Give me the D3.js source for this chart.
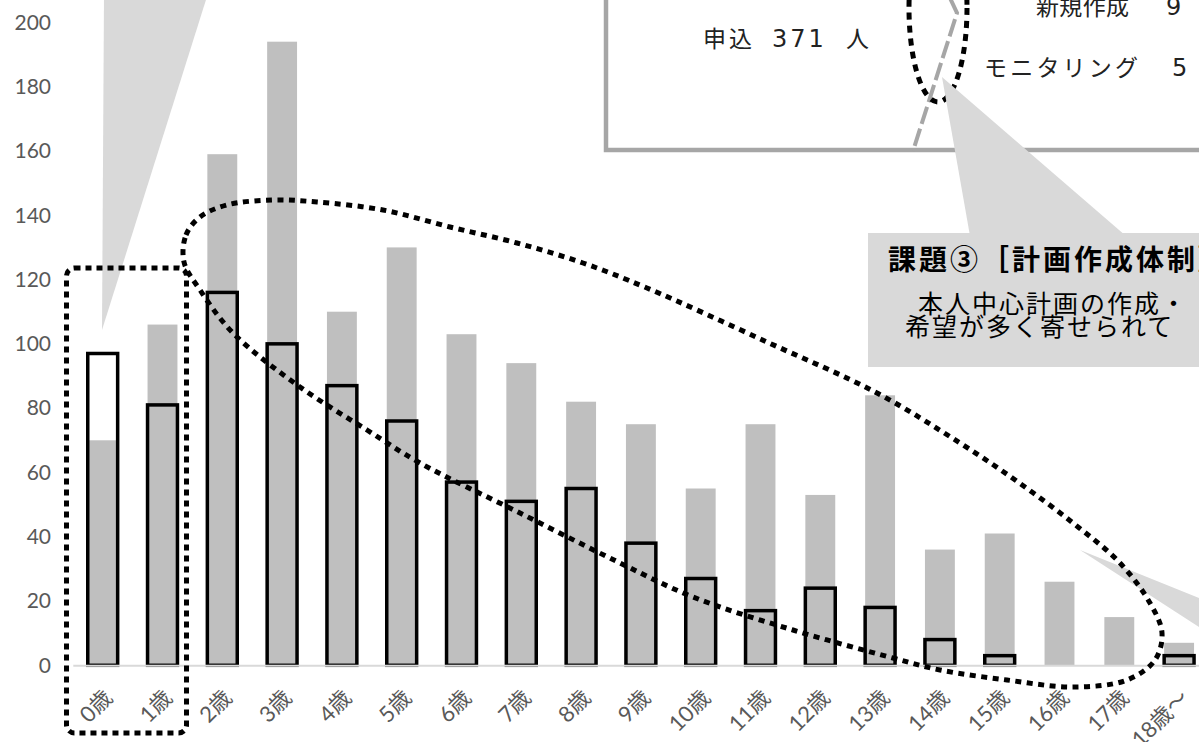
<!DOCTYPE html>
<html><head><meta charset="utf-8">
<script src="https://cdn.jsdelivr.net/npm/d3@7"></script>
<style>html,body{margin:0;padding:0;background:#fff;overflow:hidden} svg{display:block}</style>
</head><body>
<svg id="chart" width="1199" height="742"></svg>
<script>
// ---- data ----
const categories = ["0歳","1歳","2歳","3歳","4歳","5歳","6歳","7歳","8歳","9歳","10歳","11歳","12歳","13歳","14歳","15歳","16歳","17歳","18歳～"];
const grayValues = [70,106,159,194,110,130,103,94,82,75,55,75,53,84,36,41,26,15,7];
const outlineValues = [97,81,116,100,87,76,57,51,55,38,27,17,24,18,8,3,0,0,3];
const yTickValues = [0,20,40,60,80,100,120,140,160,180,200];

// ---- annotation layout (decorations, pixel space) ----
const leftCallout = [[104,-5],[207.5,-5],[102,330]];
const issueCallout = [[942,77],[970,236],[1126,236]];
const rightCallout = [[1080,550],[1230,610.5],[1230,647]];
const bigLoop = [[184,262],[186,235],[200,217],[227,205],[273,200],[317,202],[383,210],[450,227],[517,243],[583,263],[647,288],[767,342],[877,393],[960,443],[1018,482],[1073,523],[1120,563],[1150,603],[1162,633],[1155,660],[1127,680],[1073,687],[1007,680],[940,670],[893,658],[793,630],[693,597],[620,563],[520,513],[420,463],[367,430],[300,387],[233,333],[200,290]];
const grayDash = [[950,-2],[957,13],[913,151]];

const svg = d3.select("#chart");
const jp = "'Noto Sans CJK JP', sans-serif";
const num = "Lato, 'Noto Sans CJK JP', sans-serif";

const x = d3.scaleBand().domain(categories).range([72.8, 1209]).paddingInner(0.5).paddingOuter(0.25);
const y = d3.scaleLinear().domain([0, 200]).range([665.3, 22.4]);

// callout shapes
svg.append("polygon").attr("points", leftCallout.join(" ")).attr("fill", "#d9d9d9");

// top right box
svg.append("rect").attr("x", 606).attr("y", -20).attr("width", 620).attr("height", 170)
  .attr("fill", "#fff").attr("stroke", "#a6a6a6").attr("stroke-width", 4.5);
svg.append("path").attr("d", d3.line()(grayDash)).attr("fill", "none")
  .attr("stroke", "#a6a6a6").attr("stroke-width", 4).attr("stroke-dasharray", "18 5");
svg.append("ellipse").attr("cx", 938).attr("cy", 8).attr("rx", 29).attr("ry", 94)
  .attr("fill", "none").attr("stroke", "#000").attr("stroke-width", 5).attr("stroke-dasharray", "7 6");

const boxText = svg.append("g").attr("font-family", jp).attr("font-size", 23).attr("fill", "#222");
boxText.append("text").attr("x", 703).attr("y", 47).attr("letter-spacing", 3).text("申込");
boxText.append("text").attr("x", 772).attr("y", 47).attr("font-family", "'DejaVu Sans', sans-serif")
  .attr("font-size", 24).attr("letter-spacing", 3).text("371");
boxText.append("text").attr("x", 846).attr("y", 47).text("人");
boxText.append("text").attr("x", 1036).attr("y", 15).attr("textLength", 93).text("新規作成");
boxText.append("text").attr("x", 1166).attr("y", 15).attr("font-family", "'DejaVu Sans', sans-serif").attr("font-size", 24).text("9");
boxText.append("text").attr("x", 984).attr("y", 76).attr("textLength", 154).text("モニタリング");
boxText.append("text").attr("x", 1172).attr("y", 76).attr("font-family", "'DejaVu Sans', sans-serif").attr("font-size", 24).text("5");

// issue callout
svg.append("polygon").attr("points", issueCallout.join(" ")).attr("fill", "#d9d9d9");
svg.append("rect").attr("x", 868).attr("y", 233).attr("width", 340).attr("height", 134).attr("fill", "#d9d9d9");
svg.append("text").attr("x", 888).attr("y", 270).attr("font-family", jp).attr("font-size", 28)
  .attr("font-weight", "bold").attr("fill", "#000").attr("letter-spacing", 3).text("課題③［計画作成体制］");
svg.append("text").attr("x", 918).attr("y", 313).attr("font-family", jp).attr("font-size", 25)
  .attr("fill", "#000").attr("letter-spacing", 2).text("本人中心計画の作成・");
svg.append("text").attr("x", 905).attr("y", 336).attr("font-family", jp).attr("font-size", 25)
  .attr("fill", "#000").attr("letter-spacing", 2).text("希望が多く寄せられて");

svg.append("polygon").attr("points", rightCallout.join(" ")).attr("fill", "#d9d9d9");

// bars
svg.append("g").selectAll("rect").data(categories).join("rect")
  .attr("x", d => x(d)).attr("width", x.bandwidth())
  .attr("y", (d, i) => y(grayValues[i])).attr("height", (d, i) => y(0) - y(grayValues[i]))
  .attr("fill", "#bfbfbf");
svg.append("g").selectAll("rect").data(categories.filter((d, i) => outlineValues[i] > 0)).join("rect")
  .attr("x", d => x(d)).attr("width", x.bandwidth())
  .attr("y", d => y(outlineValues[categories.indexOf(d)]))
  .attr("height", d => y(0) - y(outlineValues[categories.indexOf(d)]))
  .attr("fill", "none").attr("stroke", "#000").attr("stroke-width", 3.5);

// axes
const yAxis = svg.append("g").attr("transform", "translate(51,0)")
  .call(d3.axisLeft(y).tickValues(yTickValues).tickSize(0).tickPadding(0));
yAxis.select(".domain").remove();
yAxis.selectAll("text").attr("font-family", num).attr("font-size", 21).attr("fill", "#595959");

const xAxis = svg.append("g").attr("transform", `translate(0,${y(0)})`)
  .call(d3.axisBottom(x).tickSize(0).tickSizeOuter(0));
xAxis.select(".domain").attr("stroke", "#d9d9d9").attr("stroke-width", 2);
xAxis.selectAll(".tick text").attr("font-family", num).attr("font-size", 22).attr("fill", "#595959")
  .attr("text-anchor", "end").attr("x", 0).attr("y", 0).attr("dy", 0)
  .attr("transform", "translate(11,34) rotate(-45)");

// dotted annotations
svg.append("rect").attr("x", 66.5).attr("y", 268).attr("width", 120).attr("height", 465).attr("rx", 8)
  .attr("fill", "none").attr("stroke", "#000").attr("stroke-width", 5).attr("stroke-dasharray", "6 5");
svg.append("path").attr("d", d3.line().curve(d3.curveCatmullRomClosed.alpha(0.5))(bigLoop))
  .attr("fill", "none").attr("stroke", "#000").attr("stroke-width", 5).attr("stroke-dasharray", "6 5.5");
</script>
</body></html>
